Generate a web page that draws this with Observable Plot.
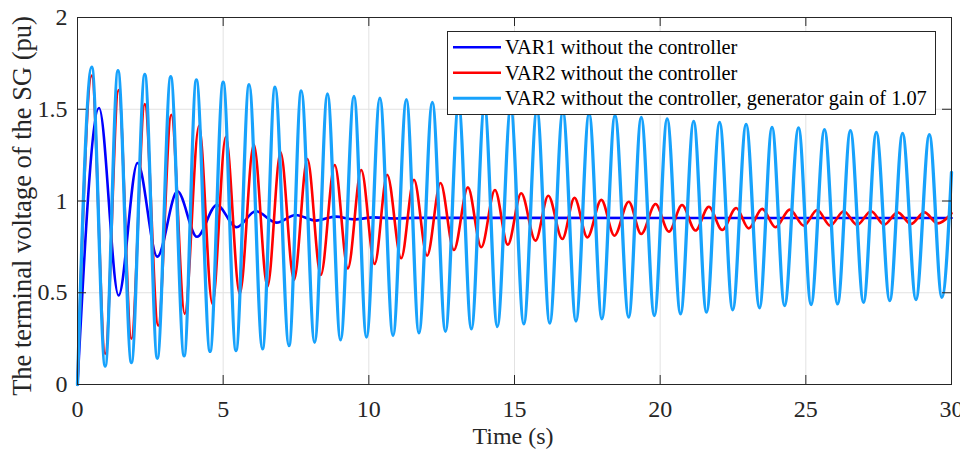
<!DOCTYPE html>
<html><head><meta charset="utf-8">
<script src="https://cdn.jsdelivr.net/npm/d3@7"></script>
<script src="https://cdn.jsdelivr.net/npm/@observablehq/plot@0.6"></script>
<style>body{margin:0;background:#fff} #chart{position:relative;width:960px;height:450px;overflow:hidden}</style>
</head><body><div id="chart"></div>
<script>
// ---- data (time s, voltage pu) at extrema ----
const xTicks = [0, 5, 10, 15, 20, 25, 30];
const yTicks = [0, 0.5, 1, 1.5, 2];
const seriesNames = [
  "VAR1 without the controller",
  "VAR2 without the controller",
  "VAR2 without the controller, generator gain of 1.07"
];
const seriesColors = ["#0000ff", "#ff0000", "#17a2fc"];

const var1 = [[0,0],[0.74,1.507],[1.41,0.485],[2.06,1.207],[2.74,0.697],[3.43,1.053],[4.1,0.805],
  [4.78,0.978],[5.46,0.857],[6.12,0.944],[6.83,0.882],[7.49,0.924],[8.18,0.893],[8.86,0.915],
  [9.49,0.9],[10.18,0.911],[10.9,0.905],[11.6,0.908],[30,0.907]];

const var2 = [[0,0],[0.49,1.683],[0.95,0.167],[1.41,1.605],[1.85,0.249],[2.31,1.528],[2.77,0.321],
  [3.22,1.47],[3.68,0.385],[4.17,1.41],[4.63,0.439],[5.09,1.35],[5.57,0.494],[6.05,1.308],
  [6.52,0.534],[6.97,1.265],[7.43,0.57],[7.89,1.229],[8.35,0.597],[8.83,1.196],[9.28,0.633],
  [9.74,1.169],[10.2,0.657],[10.63,1.143],[11.11,0.688],[11.55,1.116],[12.0,0.702],[12.46,1.098],
  [12.92,0.733],[13.4,1.074],[13.86,0.748],[14.33,1.06],[14.77,0.762],[15.23,1.042],[15.72,0.784],
  [16.16,1.029],[16.64,0.793],[17.06,1.017],[17.5,0.802],[17.98,1.006],[18.43,0.811],[18.92,0.996],
  [19.35,0.82],[19.84,0.984],[20.3,0.833],[20.75,0.978],[21.21,0.839],[21.67,0.969],[22.13,0.842],
  [22.61,0.962],[23.04,0.851],[23.5,0.957],[23.96,0.857],[24.45,0.953],[24.93,0.866],[25.39,0.951],
  [25.84,0.866],[26.3,0.944],[26.76,0.87],[27.24,0.944],[27.69,0.871],[28.15,0.938],[28.61,0.875],
  [29.07,0.938],[29.52,0.878],[30,0.933]];

const var2Gain = [[0,0],[0.49,1.73],[0.95,0.1],[1.39,1.71],[1.85,0.12],[2.31,1.69],[2.74,0.143],
  [3.2,1.677],[3.66,0.156],[4.08,1.66],[4.55,0.18],[5.0,1.648],[5.44,0.185],[5.89,1.634],
  [6.35,0.194],[6.78,1.62],[7.26,0.212],[7.68,1.6],[8.14,0.23],[8.58,1.583],[9.03,0.243],
  [9.49,1.57],[9.92,0.258],[10.38,1.561],[10.83,0.267],[11.29,1.552],[11.72,0.281],[12.18,1.537],
  [12.63,0.289],[13.08,1.527],[13.52,0.303],[13.97,1.517],[14.41,0.316],[14.87,1.507],[15.32,0.33],
  [15.77,1.497],[16.21,0.334],[16.66,1.487],[17.11,0.346],[17.56,1.476],[18.0,0.358],[18.45,1.466],
  [18.92,0.367],[19.35,1.455],[19.8,0.376],[20.24,1.447],[20.7,0.385],[21.15,1.434],[21.59,0.394],
  [22.04,1.428],[22.49,0.407],[22.95,1.418],[23.41,0.418],[23.84,1.401],[24.27,0.43],[24.75,1.398],
  [25.18,0.436],[25.64,1.389],[26.09,0.439],[26.53,1.383],[26.98,0.448],[27.42,1.374],[27.88,0.457],
  [28.32,1.368],[28.78,0.463],[29.24,1.361],[29.67,0.475],[30,1.156]];

const xLabel = "Time (s)";
const yLabel = "The terminal voltage of the SG (pu)";

// ---- chart ----
const font = "'Liberation Serif','Times New Roman',serif";
const axisColor = "#262626";
const W = 960, H = 450, mL = 77, mR = 9, mT = 17, mB = 66;
const innerW = W - mL - mR, innerH = H - mT - mB, tickLen = 9;

const lineOpts = (data, i, sw) => Plot.line(data, {
  x: d => d[0], y: d => d[1], curve: "monotone-x",
  stroke: seriesColors[i], strokeWidth: sw, strokeLinejoin: "round"
});

const plot = Plot.plot({
  width: W, height: H, marginLeft: mL, marginRight: mR, marginTop: mT, marginBottom: mB,
  style: {fontFamily: font, background: "#fff", color: axisColor, overflow: "visible"},
  x: {domain: [0, 30]},
  y: {domain: [0, 2]},
  marks: [
    Plot.gridX(xTicks, {stroke: "#e2e2e2", strokeOpacity: 1}),
    Plot.gridY(yTicks, {stroke: "#e2e2e2", strokeOpacity: 1}),
    lineOpts(var1, 0, 2.6),
    lineOpts(var2, 1, 2.6),
    lineOpts(var2Gain, 2, 3.3),
    Plot.tickX(xTicks, {x: d => d, insetTop: innerH - tickLen, stroke: axisColor}),
    Plot.tickX(xTicks, {x: d => d, insetBottom: innerH - tickLen, stroke: axisColor}),
    Plot.tickY(yTicks, {y: d => d, insetRight: innerW - tickLen, stroke: axisColor}),
    Plot.tickY(yTicks, {y: d => d, insetLeft: innerW - tickLen, stroke: axisColor}),
    Plot.frame({stroke: axisColor}),
    Plot.axisX(xTicks, {anchor: "bottom", tickSize: 0, tickPadding: 15, fontSize: 24, label: null, tickFormat: d => String(d)}),
    Plot.axisY(yTicks, {anchor: "left", tickSize: 0, tickPadding: 10, fontSize: 24, label: null, tickFormat: d => String(d)})
  ]
});
document.getElementById("chart").appendChild(plot);

const svg = d3.select(plot);
// axis titles
svg.append("text").attr("x", 513).attr("y", 444).style("text-anchor", "middle")
  .attr("font-size", 24).attr("font-family", font).style("fill", axisColor).text(xLabel);
svg.append("text").attr("transform", "translate(31,206) rotate(-90)").style("text-anchor", "middle")
  .attr("font-size", 26.5).attr("font-family", font).style("fill", axisColor).text(yLabel);

// legend (MATLAB style box, upper right)
const lg = svg.append("g");
lg.append("rect").attr("x", 447.5).attr("y", 31.5).attr("width", 488).attr("height", 83)
  .style("fill", "#ffffff").style("fill-opacity", 1).style("stroke", axisColor).style("stroke-width", 1);
const rowY = [47.3, 72.7, 98.3];
seriesNames.forEach((name, i) => {
  lg.append("line").attr("x1", 453).attr("x2", 501).attr("y1", rowY[i]).attr("y2", rowY[i])
    .style("stroke", seriesColors[i]).style("stroke-width", i === 2 ? 3 : 2.6);
  lg.append("text").attr("x", 505).attr("y", rowY[i] + 7).attr("font-size", 20.4)
    .attr("font-family", font).style("fill", "#000").style("text-anchor", "start").text(name);
});
</script>
</body></html>
